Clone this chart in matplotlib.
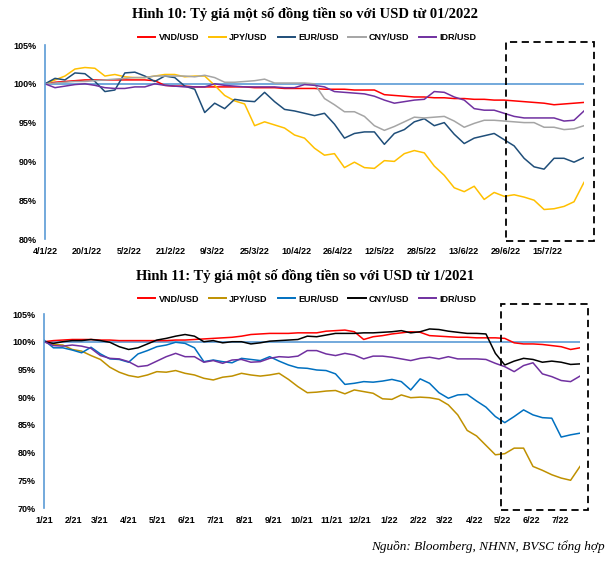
import matplotlib
matplotlib.use("Agg")
import matplotlib.pyplot as plt
import matplotlib.patches as mpatches
import matplotlib.dates as mdates
from matplotlib.ticker import FuncFormatter, PercentFormatter
import pandas as pd

# ---- Hinh 10: daily index vs USD since 01/2022 (100 = 4/1/22), sampled ----
dates_2022 = pd.date_range("2022-01-04", "2022-07-29", periods=55)
vnd_2022 = [100.0, 100.2, 100.3, 100.4, 100.5, 100.5, 100.5, 100.5, 100.5, 100.5,
            100.5, 100.4, 99.8, 99.7, 99.7, 99.6, 99.6, 99.6, 99.6, 99.6,
            99.6, 99.5, 99.5, 99.5, 99.4, 99.4, 99.4, 99.4, 99.3, 99.3,
            99.3, 99.2, 99.2, 99.2, 98.6, 98.5, 98.4, 98.3, 98.3, 98.2,
            98.2, 98.1, 98.1, 98.0, 98.0, 97.9, 97.9, 97.8, 97.7, 97.6,
            97.5, 97.3, 97.4, 97.5, 97.6]
jpy_2022 = [100.0, 100.5, 101.0, 101.9, 102.1, 102.0, 101.0, 101.2, 100.9, 100.8,
            100.8, 101.0, 101.2, 101.2, 100.9, 101.0, 101.0, 99.8, 98.5, 97.8,
            97.4, 94.6, 95.1, 94.7, 94.3, 93.4, 93.0, 91.7, 90.8, 91.0,
            89.2, 89.9, 89.2, 89.1, 90.1, 90.0, 91.0, 91.4, 91.1, 89.4,
            88.2, 86.6, 86.1, 86.8, 85.1, 86.0, 85.5, 85.7, 85.4, 85.0,
            83.8, 83.9, 84.2, 84.8, 87.3]
eur_2022 = [100.0, 100.7, 100.5, 101.4, 101.3, 100.3, 99.0, 99.2, 101.4, 101.5,
            101.0, 100.3, 101.0, 100.8, 99.7, 99.3, 96.3, 97.5, 96.8, 98.0,
            97.8, 97.7, 98.9, 97.7, 96.7, 96.5, 96.2, 95.9, 96.2, 94.8,
            93.0, 93.6, 93.8, 93.8, 92.2, 93.6, 94.1, 95.1, 95.5, 94.6,
            95.0, 93.5, 92.3, 93.0, 93.3, 93.6, 92.8, 92.0, 90.4, 89.3,
            89.0, 90.4, 90.4, 89.9, 90.5]
cny_2022 = [100.0, 100.1, 100.2, 100.3, 100.3, 100.4, 100.5, 100.6, 100.7, 100.8,
            100.8, 101.0, 101.0, 101.0, 101.0, 100.9, 101.1, 100.8, 100.2, 100.2,
            100.3, 100.4, 100.6, 100.1, 100.1, 100.1, 100.1, 100.0, 98.1, 97.3,
            96.4, 96.4, 95.8, 94.6, 94.0, 94.5, 95.1, 95.7, 95.6, 95.7,
            95.8, 95.2, 94.4, 94.9, 95.3, 95.3, 95.2, 95.1, 95.0, 95.0,
            94.4, 94.4, 94.1, 94.2, 94.6]
idr_2022 = [100.0, 99.5, 99.7, 99.9, 100.0, 99.8, 99.5, 99.4, 99.4, 99.6,
            99.6, 100.0, 99.8, 99.7, 99.6, 99.6, 99.6, 100.0, 99.8, 99.7,
            99.6, 99.6, 99.6, 99.6, 99.5, 99.5, 99.9, 99.8, 99.6, 99.0,
            98.9, 98.8, 98.7, 98.4, 97.9, 97.5, 97.7, 97.9, 98.0, 99.0,
            98.9, 98.3, 97.9, 96.8, 96.6, 96.6, 96.2, 95.8, 95.6, 95.6,
            95.6, 95.6, 95.2, 95.3, 96.5]

# ---- Hinh 11: index vs USD since 1/2021 (100 = start of 2021), sampled ----
dates_2021 = pd.date_range("2021-01-01", "2022-07-22", periods=58)
vnd_2021 = [100.0, 100.2, 100.3, 100.4, 100.4, 100.4, 100.3, 100.3, 100.2, 100.2,
            100.2, 100.2, 100.2, 100.2, 100.3, 100.3, 100.4, 100.5, 100.6, 100.7,
            100.8, 101.0, 101.3, 101.4, 101.5, 101.5, 101.5, 101.6, 101.6, 101.6,
            101.9, 102.0, 102.1, 101.8, 100.4, 100.9, 101.1, 101.4, 101.6, 101.8,
            101.7, 101.1, 101.0, 100.9, 100.8, 100.8, 100.7, 100.7, 100.7, 100.6,
            99.8, 99.6, 99.6, 99.5, 99.3, 99.1, 98.6, 98.9]
jpy_2021 = [100.0, 99.5, 99.4, 98.6, 98.3, 97.5, 96.8, 95.4, 94.5, 93.9,
            93.6, 94.0, 94.6, 94.5, 94.8, 94.3, 94.0, 93.4, 93.1, 93.6,
            93.8, 94.3, 94.0, 93.8, 94.0, 94.3, 93.2, 91.9, 90.8, 90.9,
            91.1, 91.2, 90.6, 91.3, 91.0, 90.7, 89.7, 89.6, 90.4, 89.9,
            90.0, 89.9, 89.6, 88.6, 86.8, 84.0, 83.0, 81.3, 79.6, 79.8,
            80.8, 80.8, 77.5, 76.8, 76.0, 75.4, 75.0, 77.5]
eur_2021 = [100.3, 98.9, 98.9, 98.5, 98.0, 99.0, 97.8, 96.9, 96.8, 96.3,
            97.8, 98.4, 99.1, 99.4, 99.9, 99.7, 98.9, 96.4, 96.7, 96.4,
            96.2, 97.0, 96.8, 96.6, 97.3, 96.5, 95.8, 95.3, 95.2, 94.9,
            94.8, 94.2, 92.3, 92.5, 92.8, 92.7, 92.9, 93.2, 92.8, 91.3,
            93.3, 92.5, 90.8, 89.8, 90.4, 90.5, 89.3, 88.2, 86.5, 85.4,
            86.5, 87.7, 86.8, 86.3, 86.2, 82.8, 83.2, 83.5]
cny_2021 = [100.0, 99.7, 100.0, 100.2, 100.2, 100.4, 100.2, 99.9, 99.1, 98.6,
            98.9, 99.6, 100.3, 100.6, 101.0, 101.3, 101.0, 100.0, 100.2, 99.8,
            100.0, 100.0, 99.6, 99.8, 100.1, 100.2, 100.3, 100.4, 101.0, 100.9,
            101.2, 101.5, 101.5, 101.5, 101.6, 101.6, 101.7, 101.8, 102.0, 101.6,
            101.8, 102.3, 102.2, 101.9, 101.7, 101.5, 101.5, 101.4, 97.9, 95.8,
            96.5, 97.0, 96.8, 96.3, 96.5, 96.3, 95.9, 96.0]
idr_2021 = [100.0, 99.3, 99.2, 99.4, 99.2, 98.8, 97.5, 97.0, 96.9, 96.4,
            95.5, 95.7, 96.5, 97.3, 97.9, 97.3, 97.3, 96.3, 96.6, 96.1,
            96.7, 96.8, 96.3, 96.4, 97.0, 97.3, 97.2, 97.4, 98.4, 98.4,
            97.8, 97.5, 97.9, 97.6, 96.9, 97.4, 97.4, 97.2, 96.9, 96.6,
            97.0, 97.2, 96.9, 97.3, 96.9, 96.9, 96.9, 96.8, 96.1, 95.5,
            94.6, 95.7, 96.2, 94.2, 93.7, 93.0, 92.8, 93.8]

labels = ["VND/USD", "JPY/USD", "EUR/USD", "CNY/USD", "IDR/USD"]
colors_2022 = ["#FF0000", "#FFC000", "#1F4E79", "#A5A5A5", "#7030A0"]
colors_2021 = ["#FF0000", "#BF9000", "#0070C0", "#000000", "#7030A0"]
REF_BLUE = "#5B9BD5"

W, H = 611, 561
fig = plt.figure(figsize=(W / 100, H / 100), dpi=100)

sans = "Liberation Sans"
serif = "Liberation Serif"


def draw_panel(ax, dates, series, colors, ylim, yticks, box_x, box_y, legend_y):
    for s, c, lab in zip(series, colors, labels):
        ax.plot(dates, s, color=c, lw=1.1, label=lab)
    ax.axhline(100, color=REF_BLUE, lw=1.2, zorder=0)
    ax.set_xlim(dates[0], dates[-1])
    ax.set_ylim(*ylim)
    ax.set_yticks(yticks)
    ax.yaxis.set_major_formatter(PercentFormatter(decimals=0))
    for side in ("top", "right", "bottom"):
        ax.spines[side].set_visible(False)
    ax.spines["left"].set_color(REF_BLUE)
    ax.spines["left"].set_linewidth(1.2)
    ax.tick_params(length=0, labelsize=6.5, pad=6)
    for t in ax.get_xticklabels() + ax.get_yticklabels():
        t.set_fontfamily(sans)
        t.set_fontweight("bold")
    x0, x1 = mdates.date2num(pd.Timestamp(box_x[0])), mdates.date2num(pd.Timestamp(box_x[1]))
    box = mpatches.Rectangle((x0, box_y[0]), x1 - x0, box_y[1] - box_y[0],
                             fill=False, ec="black", lw=1.3, ls=(0, (4, 2.5)),
                             clip_on=False, zorder=5)
    ax.add_patch(box)
    leg = ax.legend(loc="center", bbox_to_anchor=(0.503, legend_y),
                    bbox_transform=fig.transFigure, ncol=5, frameon=False,
                    handlelength=1.9, handletextpad=0.35, columnspacing=1.1,
                    prop={"family": sans, "weight": "bold", "size": 6.5})
    for line in leg.get_lines():
        line.set_linewidth(1.4)


# top chart
ax1 = fig.add_axes([45 / W, 1 - 239 / H, 539 / W, 194 / H])
draw_panel(ax1, dates_2022, [vnd_2022, jpy_2022, eur_2022, cny_2022, idr_2022],
           colors_2022, (80, 105), [80, 85, 90, 95, 100, 105],
           ("2022-06-29", "2022-08-02"), (79.7, 105.4), 1 - 38 / H)
ax1.set_xticks(pd.date_range("2022-01-04", periods=13, freq="16D"))
ax1.xaxis.set_major_formatter(FuncFormatter(
    lambda v, p: (lambda d: f"{d.day}/{d.month}/{d.year % 100}")(mdates.num2date(v))))
for t in ax1.get_xticklabels():
    t.set_fontfamily(sans)
    t.set_fontweight("bold")

# bottom chart
ax2 = fig.add_axes([44 / W, 1 - 508 / H, 536 / W, 194 / H])
draw_panel(ax2, dates_2021, [vnd_2021, jpy_2021, eur_2021, cny_2021, idr_2021],
           colors_2021, (70, 105), [70, 75, 80, 85, 90, 95, 100, 105],
           ("2022-04-29", "2022-07-30"), (69.7, 106.8), 1 - 299 / H)
ax2.set_xticks(pd.date_range("2021-01-01", "2022-07-01", freq="MS"))
ax2.xaxis.set_major_formatter(FuncFormatter(
    lambda v, p: (lambda d: f"{d.month}/{d.year % 100}")(mdates.num2date(v))))
for t in ax2.get_xticklabels():
    t.set_fontfamily(sans)
    t.set_fontweight("bold")

fig.text(0.5, 1 - 14 / H, "Hình 10: Tỷ giá một số đồng tiền so với USD từ 01/2022",
         ha="center", va="center", family=serif, weight="bold", size=10.5)
fig.text(0.5, 1 - 276 / H, "Hình 11: Tỷ giá một số đồng tiền so với USD từ 1/2021",
         ha="center", va="center", family=serif, weight="bold", size=10.5)
fig.text(605 / W, 1 - 547 / H, "Nguồn: Bloomberg, NHNN, BVSC tổng hợp",
         ha="right", va="center", family=serif, style="italic", size=9.5)

fig.savefig("out.png", dpi=100)
